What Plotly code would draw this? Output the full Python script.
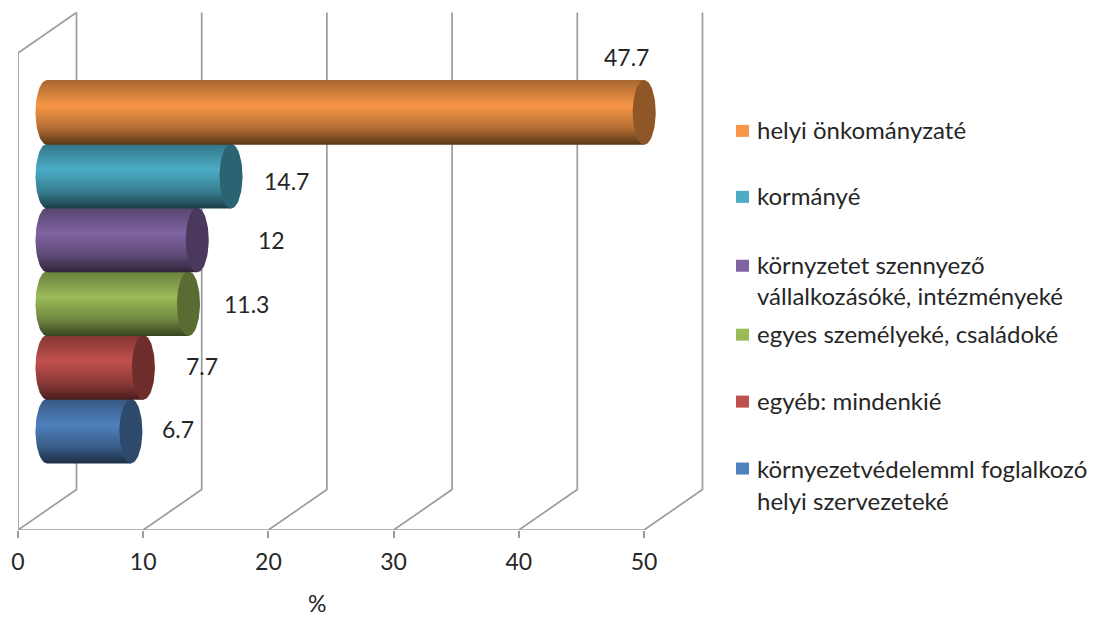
import math
import plotly.graph_objects as go

# ---- data (bottom to top) ----
series_names = ["környezetvédelemml foglalkozó helyi szervezeteké", "egyéb: mindenkié",
                "egyes személyeké, családoké", "környzetet szennyező vállalkozásóké, intézményeké",
                "kormányé", "helyi önkományzaté"]
values = [6.7, 7.7, 11.3, 12, 14.7, 47.7]
value_text = ["6.7", "7.7", "11.3", "12", "14.7", "47.7"]
colors = ["#4F81BD", "#C0504D", "#9BBB59", "#8064A2", "#4BACC6", "#F79646"]
tick_vals = [0, 10, 20, 30, 40, 50]

# ---- layout constants (px are page pixels; the page has an 8 px body margin) ----
PAGE = 8
W, H = 1099 - PAGE, 625 - PAGE
PL, PR, PT, PB = 18, 1099, PAGE, 530.5
PX_PER_X = 12.52
PX_PER_Y = 63.8
Y0_PX = 431.5
FONT = "Lato"
TXT = "#262626"
GRID = "#9C9C9C"
FS_LEG = 24
FS_NUM = 23

xmax = (PR - PL) / PX_PER_X
ymin = (Y0_PX - PB) / PX_PER_Y
ymax = (Y0_PX - PT) / PX_PER_Y
DX = 58.5 / PX_PER_X      # depth offset
DY = 40.5 / PX_PER_Y
TOP = (Y0_PX - 12.5) / PX_PER_Y
WALL_TOP = (Y0_PX - 53) / PX_PER_Y
CAP_A = 11.5 / PX_PER_X
R = 32.4 / PX_PER_Y
XS = 29 / PX_PER_X        # bars sit half-way through the depth


def shade(hex_c, f):
    r, g, b = (int(hex_c[i:i + 2], 16) for i in (1, 3, 5))
    return f"rgb({int(r * f)},{int(g * f)},{int(b * f)})"


fig = go.Figure()

# walls: depth lines and vertical gridlines
gx, gy = [], []
for t in tick_vals:
    gx += [t, t + DX, t + DX, None]
    gy += [ymin, ymin + DY, TOP, None]
gx += [0, 0, DX, None, 0, 50]
gy += [ymin, WALL_TOP, TOP, None, ymin, ymin]
fig.add_trace(go.Scatter(x=gx, y=gy, mode="lines", line=dict(color=GRID, width=1.7),
                         hoverinfo="skip", showlegend=False, cliponaxis=False))

# cylinders
angles = [math.radians(a) for a in range(-90, 91, 5)]
full = [math.radians(a) for a in range(0, 361, 5)]
for i, (name, v, c) in enumerate(zip(series_names, values, colors)):
    xe = XS + v
    px = [XS - CAP_A * math.cos(a) for a in angles] + [xe, xe]
    py = [i + R * math.sin(a) for a in angles] + [i + R, i - R]
    fig.add_trace(go.Scatter(
        x=px, y=py, mode="lines", fill="toself", line=dict(width=0, color=c), name=name,
        fillgradient=dict(type="vertical", colorscale=[
            [0, shade(c, 0.36)], [0.25, shade(c, 0.72)], [0.6, shade(c, 1.0)],
            [0.88, shade(c, 0.78)], [1, shade(c, 0.68)]]),
        hoverinfo="name", showlegend=False))
    fig.add_trace(go.Scatter(
        x=[xe + CAP_A * math.cos(a) for a in full], y=[i + R * math.sin(a) for a in full],
        mode="lines", fill="toself", line=dict(width=0, color=c),
        fillcolor=shade(c, 0.58), hoverinfo="skip", showlegend=False))

# value labels (offsets from bar end in px, hand-placed as in the original)
label_off = [(47, 2.5), (59, 1), (58, 0), (74, 0), (55, -5), (-18, 55)]
for i, (v, t, (ox, oy)) in enumerate(zip(values, value_text, label_off)):
    fig.add_annotation(x=v + ox / PX_PER_X + XS, y=i + oy / PX_PER_Y,
                       text=t, showarrow=False, font=dict(family=FONT, size=FS_NUM, color=TXT))


# legend (top to bottom)
def px_x(p): return (p - PL) / (PR - PL)
def px_y(p): return (PB - p) / (PB - PT)


legend_rows = [
    (5, 131, [(130, "helyi önkományzaté")]),
    (4, 197, [(196, "kormányé")]),
    (3, 266, [(265, "környzetet szennyező"), (296, "vállalkozásóké, intézményeké")]),
    (2, 335, [(334, "egyes személyeké, családoké")]),
    (1, 402, [(401, "egyéb: mindenkié")]),
    (0, 469, [(469, "környezetvédelemml foglalkozó"), (501, "helyi szervezeteké")]),
]
shapes = []
for idx, sy, lines in legend_rows:
    shapes.append(dict(type="rect", xref="paper", yref="paper", x0=px_x(736), x1=px_x(749),
                       y0=px_y(sy + 6), y1=px_y(sy - 6), fillcolor=colors[idx], line_width=0))
    for ly, text in lines:
        fig.add_annotation(xref="paper", yref="paper", x=px_x(755), y=px_y(ly), xanchor="left",
                           yanchor="middle", text=text, showarrow=False,
                           font=dict(family=FONT, size=FS_LEG, color=TXT))

fig.add_annotation(xref="paper", yref="paper", x=px_x(317), y=px_y(604), text="%", showarrow=False,
                   xanchor="center", yanchor="middle", font=dict(family=FONT, size=FS_NUM, color=TXT))

fig.update_layout(
    width=W, height=H, autosize=False, paper_bgcolor="white", plot_bgcolor="white",
    margin=dict(l=PL - PAGE, r=PAGE + W - PR, t=PT - PAGE, b=H + PAGE - PB, pad=0),
    showlegend=False, shapes=shapes,
    font=dict(family=FONT, size=FS_NUM, color=TXT),
    xaxis=dict(range=[0, xmax], tickvals=tick_vals, ticks="outside", ticklen=7, tickwidth=1.7,
               tickcolor=GRID, showgrid=False, zeroline=False, showline=False,
               ticklabelstandoff=4, tickfont=dict(family=FONT, size=FS_NUM, color=TXT)),
    yaxis=dict(range=[ymin, ymax], visible=False),
)
fig.write_html("out.html")
